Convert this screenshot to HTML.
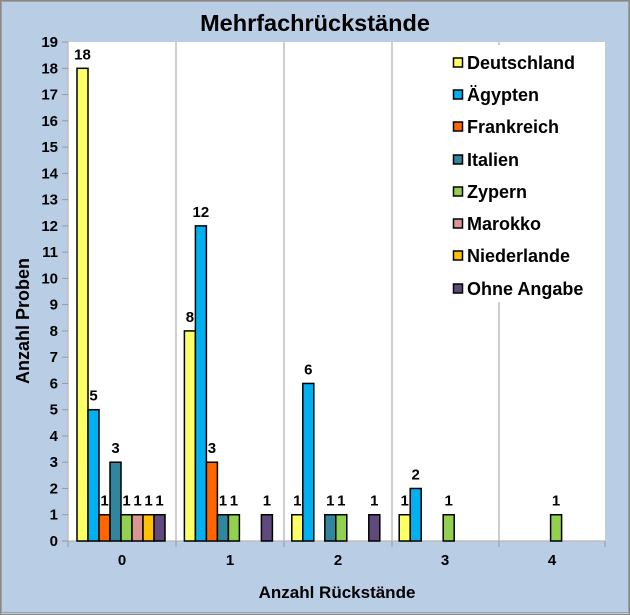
<!DOCTYPE html>
<html><head><meta charset="utf-8"><style>
html,body{margin:0;padding:0;background:#fff}
svg{display:block;font-family:"Liberation Sans",Arial,sans-serif;font-weight:bold}
</style></head><body>
<svg width="630" height="615" xmlns="http://www.w3.org/2000/svg">
<rect x="0.5" y="0.5" width="629" height="614" fill="#b9cde5" stroke="#888" stroke-width="1"/>
<rect x="1.5" y="1.5" width="627" height="611" fill="none" stroke="#a0a0a0" stroke-width="1"/>
<text x="315" y="31" font-size="23.5" text-anchor="middle">Mehrfachrückstände</text>
<rect x="68" y="42" width="537" height="499" fill="#fff"/>
<g stroke="#bfbfbf" stroke-width="1.5">
<line x1="176" y1="42" x2="176" y2="541"/>
<line x1="284" y1="42" x2="284" y2="541"/>
<line x1="392" y1="42" x2="392" y2="541"/>
<line x1="499" y1="42" x2="499" y2="541"/>
<line x1="68" y1="42" x2="68" y2="541"/>
<line x1="68" y1="541" x2="605" y2="541"/>
</g>
<g stroke="#999" stroke-width="1">
<line x1="176" y1="541" x2="176" y2="547"/><line x1="284" y1="541" x2="284" y2="547"/><line x1="392" y1="541" x2="392" y2="547"/><line x1="499" y1="541" x2="499" y2="547"/><line x1="68" y1="541" x2="68" y2="547"/><line x1="605" y1="541" x2="605" y2="547"/>
</g>
<g id="yt" font-size="15" text-anchor="end"></g>
<g id="bars"></g>
<rect x="446" y="45" width="158" height="257" fill="#fff"/>
<g font-size="18">
<rect x="453.5" y="58" width="9" height="9" fill="#ffff66" stroke="#000" stroke-width="1.5"/><text x="467" y="69">Deutschland</text>
<rect x="453.5" y="90" width="9" height="9" fill="#00b0f0" stroke="#000" stroke-width="1.5"/><text x="467" y="101">Ägypten</text>
<rect x="453.5" y="122" width="9" height="9" fill="#ff6600" stroke="#000" stroke-width="1.5"/><text x="467" y="133">Frankreich</text>
<rect x="453.5" y="155" width="9" height="9" fill="#31859c" stroke="#000" stroke-width="1.5"/><text x="467" y="166">Italien</text>
<rect x="453.5" y="187" width="9" height="9" fill="#92d050" stroke="#000" stroke-width="1.5"/><text x="467" y="198">Zypern</text>
<rect x="453.5" y="219" width="9" height="9" fill="#d99694" stroke="#000" stroke-width="1.5"/><text x="467" y="230">Marokko</text>
<rect x="453.5" y="251" width="9" height="9" fill="#ffc000" stroke="#000" stroke-width="1.5"/><text x="467" y="262">Niederlande</text>
<rect x="453.5" y="284" width="9" height="9" fill="#604a7b" stroke="#000" stroke-width="1.5"/><text x="467" y="295">Ohne Angabe</text>
</g>
<g font-size="15" text-anchor="middle">
<text x="122" y="565">0</text><text x="230" y="565">1</text><text x="338" y="565">2</text><text x="445" y="565">3</text><text x="552" y="565">4</text>
</g>
<text x="337" y="598" font-size="17" text-anchor="middle">Anzahl Rückstände</text>
<text transform="translate(29,321) rotate(-90)" font-size="18" text-anchor="middle">Anzahl Proben</text>
<script>
var ns="http://www.w3.org/2000/svg";
var yt=document.getElementById('yt');
for(var i=0;i<=19;i++){var y=541-i*26.26;
var t=document.createElementNS(ns,'text');t.setAttribute('x',58);t.setAttribute('y',y+5);t.textContent=i;yt.appendChild(t);
var l=document.createElementNS(ns,'line');l.setAttribute('x1',62);l.setAttribute('x2',68);l.setAttribute('y1',y);l.setAttribute('y2',y);l.setAttribute('stroke','#999');yt.appendChild(l);}
var cols=["#ffff66","#00b0f0","#ff6600","#31859c","#92d050","#d99694","#ffc000","#604a7b"];
var data=[[18,5,1,3,1,1,1,1],[8,12,3,1,1,0,0,1],[1,6,0,1,1,0,0,1],[1,2,0,0,1,0,0,0],[0,0,0,0,1,0,0,0]];
var g=document.getElementById('bars');
for(var c=0;c<5;c++)for(var s=0;s<8;s++){var v=data[c][s];if(!v)continue;
var x=68+c*107.4+9+s*11,h=v*26.26;
var r=document.createElementNS(ns,'rect');r.setAttribute('x',x);r.setAttribute('y',541-h);r.setAttribute('width',11);r.setAttribute('height',h);r.setAttribute('fill',cols[s]);r.setAttribute('stroke','#000');r.setAttribute('stroke-width','1.5');g.appendChild(r);
var t=document.createElementNS(ns,'text');t.setAttribute('x',x+5.5);t.setAttribute('y',541-h-9);t.setAttribute('font-size','15');t.setAttribute('text-anchor','middle');t.textContent=v;g.appendChild(t);}
</script>
</svg>
</body></html>
